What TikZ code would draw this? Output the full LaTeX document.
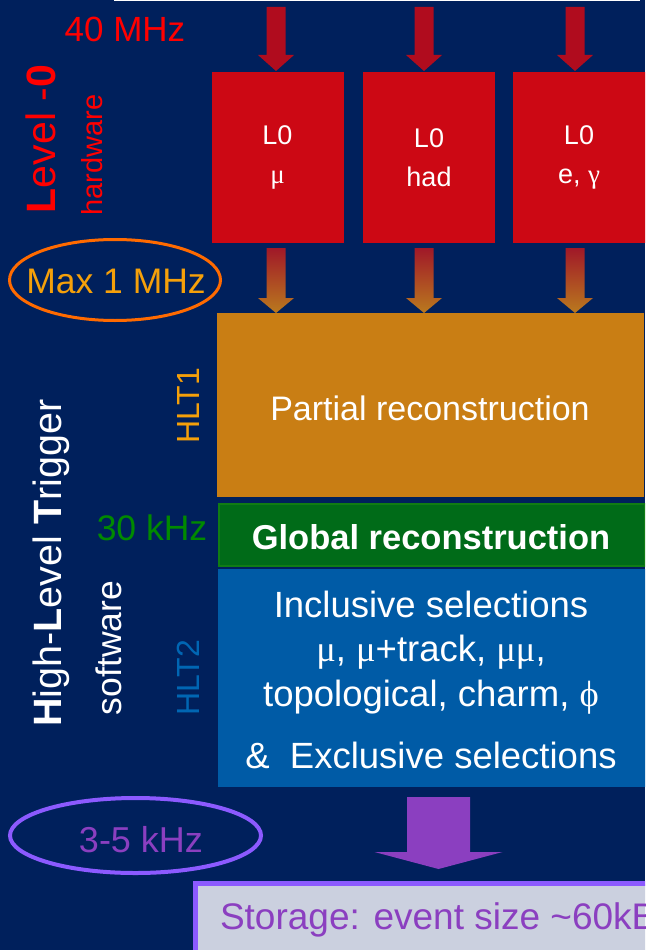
\documentclass[tikz,border=0pt]{standalone}
\usepackage{fontspec}
\setmainfont{Liberation Sans}
\newfontfamily\grk{Liberation Serif}
\usetikzlibrary{shapes.geometric}
\definecolor{bg}{RGB}{0,32,92}
\definecolor{redbox}{RGB}{204,8,20}
\definecolor{redarr}{RGB}{176,12,30}
\definecolor{gradtop}{RGB}{160,24,40}
\definecolor{gradbot}{RGB}{186,122,30}
\definecolor{red0}{RGB}{255,0,0}
\definecolor{orbox}{RGB}{201,126,20}
\definecolor{ortext}{RGB}{245,160,10}
\definecolor{orline}{RGB}{255,106,0}
\definecolor{grbox}{RGB}{0,107,24}
\definecolor{grline}{RGB}{16,124,20}
\definecolor{grtext}{RGB}{0,138,0}
\definecolor{blbox}{RGB}{0,91,166}
\definecolor{bltext}{RGB}{0,102,179}
\definecolor{purarr}{RGB}{139,63,192}
\definecolor{purline}{RGB}{140,90,255}
\definecolor{stfill}{RGB}{203,208,223}
\newcommand\blkarrow[7][]{%
  \path[#1] (#2-#6,#3) -- (#2+#6,#3) -- (#2+#6,#4) -- (#2+#7,#4) -- (#2,#5)
    -- (#2-#7,#4) -- (#2-#6,#4) -- cycle;}
\tikzset{
  every node/.style={inner sep=0pt, outer sep=0pt},
  l0box/.style={fill=redbox, minimum width=132, minimum height=171, text=white,
    align=center, font=\fontsize{27}{39}\selectfont},
  boxtext/.style={text=white, font=\fontsize{36.5}{40}\selectfont},
  side/.style={rotate=90},
}
\begin{document}
\begin{tikzpicture}[x=1pt,y=-1pt]
\useasboundingbox (0,0) rectangle (645,950);
\clip (0,0) rectangle (645,950);
\fill[bg] (0,0) rectangle (645,950);
\draw[white, line width=1.5pt] (114,0.5) -- (640,0.5);

% top arrows
\blkarrow[fill=redarr]{276}{7}{55}{71}{9.5}{18}
\blkarrow[fill=redarr]{424}{7}{55}{71}{9.5}{18}
\blkarrow[fill=redarr]{575}{7}{55}{71}{9.5}{18}

% L0 boxes
\node[l0box] (l0a) at (277.5,157.5) {L0\\{\grk μ}};
\node[l0box] (l0b) at (429,157.5) {L0\\had};
\node[l0box, minimum width=140] (l0c) at (583,157.5) {\hspace*{-8pt}L0\\\hspace*{-8pt}e, {\grk γ}};

% gradient arrows
\blkarrow[top color=gradtop, bottom color=gradbot]{276}{248}{298}{313}{9.5}{18}
\blkarrow[top color=gradtop, bottom color=gradbot]{424}{248}{298}{313}{9.5}{18}
\blkarrow[top color=gradtop, bottom color=gradbot]{575}{248}{298}{313}{9.5}{18}

% HLT1 box
\node[fill=orbox, anchor=north west, minimum width=427, minimum height=184] (hlt1) at (217,313) {};
\node[boxtext, font=\fontsize{34}{40}\selectfont] (partial) at (430,408) {Partial reconstruction};

% global reco
\node[fill=grbox, draw=grline, line width=2pt, anchor=north west, minimum width=426, minimum height=62] (glob) at (219,504) {};
\node[boxtext, font=\fontsize{34.5}{40}\bfseries\selectfont] (globt) at (431,537) {Global reconstruction};

% HLT2 box
\node[fill=blbox, anchor=north west, minimum width=430, minimum height=218] (hlt2) at (218,569) {};
\node[boxtext] (inc) at (431,604) {Inclusive selections};
\node[boxtext] (mus) at (431,652) {{\grk μ}, {\grk μ}+track, {\grk μμ},};
\node[boxtext] (topo) at (431,697) {topological, charm, {\grk ϕ}};
\node[boxtext] (excl) at (431,755) {\&\ \ Exclusive selections};

% purple arrow
\blkarrow[fill=purarr]{438.5}{797}{852}{869}{31.5}{64}

% storage
\node[fill=stfill, draw=purline, line width=5pt, anchor=north west, minimum width=500, minimum height=100] (stor) at (195.5,883.5) {};
\node[anchor=west, text=purarr, font=\fontsize{37}{40}\selectfont] (stort) at (220,920) {Storage: event size \textasciitilde60kB};

% left labels
\node[text=red0, font=\fontsize{35}{40}\selectfont] (f40) at (125,29) {40 MHz};
\node[side, text=red0, font=\fontsize{41}{48}\selectfont] (lvl) at (41,139) {\textbf{L}evel -\textbf{0}};
\node[side, text=red0, font=\fontsize{29}{34}\selectfont] (hw) at (92,155) {hardware};
\node[ellipse, draw=orline, line width=3pt, minimum width=211, minimum height=81] (maxe) at (115,280) {};
\node[text=ortext, font=\fontsize{35.5}{40}\selectfont] (maxt) at (116,281) {Max 1 MHz};
\node[side, text=ortext, font=\fontsize{32}{40}\selectfont] (h1) at (188,406) {HLT1};
\node[text=grtext, font=\fontsize{35.5}{40}\selectfont] (k30) at (152,528) {30 kHz};
\node[side, text=bltext, font=\fontsize{32}{40}\selectfont] (h2) at (188,678) {HLT2};
\node[side, text=white, font=\fontsize{39.5}{46}\selectfont] (hlt) at (51,563) {\textbf{H}igh-\textbf{L}evel \textbf{T}rigger};
\node[side, text=white, font=\fontsize{35.5}{40}\selectfont] (sw) at (109,648) {software};
\node[ellipse, draw=purline, line width=4pt, minimum width=251, minimum height=75] (kel) at (135.5,835.5) {};
\node[text=purarr, font=\fontsize{36}{40}\selectfont] (k35) at (141,840) {3-5 kHz};
\end{tikzpicture}
\end{document}
